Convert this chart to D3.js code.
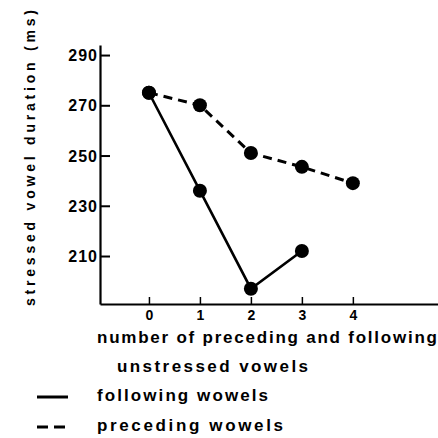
<!DOCTYPE html>
<html><head><meta charset="utf-8">
<script src="https://cdn.jsdelivr.net/npm/d3@7"></script>
<style>
html,body{margin:0;padding:0;background:#fff;}
text{font-family:"Liberation Sans",Arial,sans-serif;font-weight:bold;fill:#000;}
</style></head>
<body>
<svg id="c" width="438" height="438"></svg>
<script>
const xTicks = [0, 1, 2, 3, 4];
const yTicks = [210, 230, 250, 270, 290];
const followingX = [0, 1, 2, 3];
const followingY = [275, 236, 197, 212];
const precedingX = [0, 1, 2, 3, 4];
const precedingY = [275, 270, 251, 245.5, 239];
const yLabel = "stressed vowel duration (ms)";
const xLabel1 = "number of preceding and following";
const xLabel2 = "unstressed vowels";
const legendLabels = ["following wowels", "preceding wowels"];

const svg = d3.select("#c");
const x = d3.scaleLinear().domain([-0.96, 5.67]).range([100, 438]);
const y = d3.scaleLinear().domain([190.9, 294]).range([304, 45]);

// Y axis
const gy = svg.append("g").attr("transform", `translate(${x.range()[0]},0)`)
  .call(d3.axisLeft(y).tickValues(yTicks).tickFormat(d3.format("d")).tickSizeInner(-10).tickSizeOuter(0).tickPadding(2));
gy.select(".domain").attr("stroke", "#000").attr("stroke-width", 2.2);
gy.selectAll(".tick line").attr("stroke", "#000").attr("stroke-width", 2);
gy.selectAll(".tick text").style("font-size", "16px").attr("letter-spacing", "1").attr("dy", "0.35em");

// X axis
const gx = svg.append("g").attr("transform", `translate(0,${y.range()[0]})`)
  .call(d3.axisBottom(x).tickValues(xTicks).tickFormat(d3.format("d")).tickSizeInner(-7).tickSizeOuter(0).tickPadding(6));
gx.select(".domain").attr("stroke", "#000").attr("stroke-width", 2);
gx.selectAll(".tick line").attr("stroke", "#000").attr("stroke-width", 1.5);
gx.selectAll(".tick text").style("font-size", "14px");

// Lines
const line = d3.line().x(d => x(d[0])).y(d => y(d[1]));
const prec = precedingX.map((v, i) => [v, precedingY[i]]);
const foll = followingX.map((v, i) => [v, followingY[i]]);
svg.append("path").attr("d", line(prec)).attr("fill", "none").attr("stroke", "#000")
  .attr("stroke-width", 3).attr("stroke-dasharray", "9,6");
svg.append("path").attr("d", line(foll)).attr("fill", "none").attr("stroke", "#000")
  .attr("stroke-width", 2.6);
svg.selectAll("circle.p").data(prec.concat(foll)).enter().append("circle")
  .attr("cx", d => x(d[0])).attr("cy", d => y(d[1])).attr("r", 7).attr("fill", "#000");

// Y label
svg.append("text").attr("transform", "translate(35,158) rotate(-90)")
  .attr("text-anchor", "middle").style("font-size", "14px")
  .attr("textLength", 296).attr("lengthAdjust", "spacing").text(yLabel);

// X label
svg.append("text").attr("x", 97).attr("y", 343).style("font-size", "17px")
  .attr("textLength", 340).attr("lengthAdjust", "spacing").text(xLabel1);
svg.append("text").attr("x", 117).attr("y", 372).style("font-size", "17px")
  .attr("textLength", 191).attr("lengthAdjust", "spacing").text(xLabel2);

// Legend
const lg = svg.append("g");
lg.append("line").attr("x1", 37).attr("x2", 68).attr("y1", 397).attr("y2", 397)
  .attr("stroke", "#000").attr("stroke-width", 3);
lg.append("line").attr("x1", 37).attr("x2", 68).attr("y1", 427).attr("y2", 427)
  .attr("stroke", "#000").attr("stroke-width", 3).attr("stroke-dasharray", "11,6");
lg.append("text").attr("x", 97).attr("y", 401).style("font-size", "17px")
  .attr("textLength", 171).attr("lengthAdjust", "spacing").text(legendLabels[0]);
lg.append("text").attr("x", 97).attr("y", 431).style("font-size", "17px")
  .attr("textLength", 186).attr("lengthAdjust", "spacing").text(legendLabels[1]);
</script>
</body></html>
